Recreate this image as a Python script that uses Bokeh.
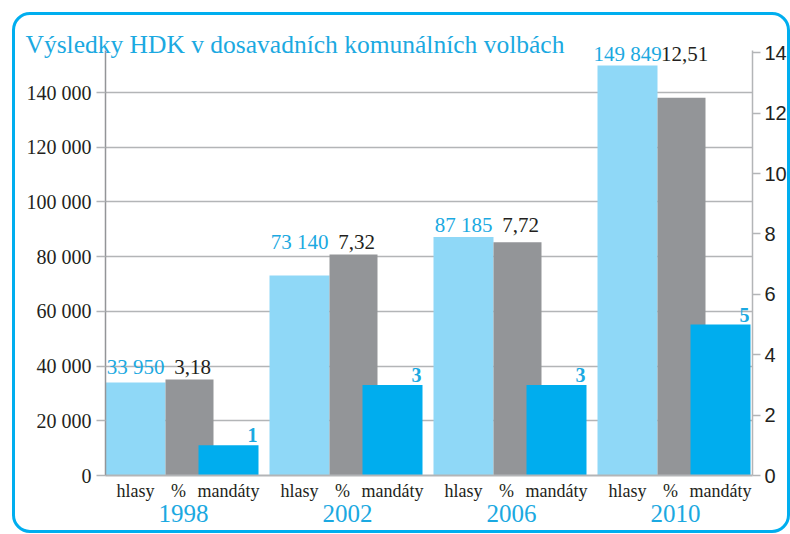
from bokeh.plotting import figure
from bokeh.models import (Range1d, LinearAxis, FixedTicker, Grid, ColumnDataSource,
                          Title, InlineStyleSheet)
from bokeh.core.properties import value
from bokeh.embed import file_html
from bokeh.resources import INLINE

# ---- data ----
years = ["1998", "2002", "2006", "2010"]
hlasy = [33950, 73140, 87185, 149849]
procenta = [3.18, 7.32, 7.72, 12.51]
mandaty = [1, 3, 3, 5]
left_ticks = [0, 20000, 40000, 60000, 80000, 100000, 120000, 140000]
left_tick_labels = ["0", "20 000", "40 000", "60 000", "80 000", "100 000", "120 000", "140 000"]
right_ticks = [0, 2, 4, 6, 8, 10, 12, 14]
cat_labels = ["hlasy", "%", "mandáty"]
title_text = "Výsledky HDK v dosavadních komunálních volbách"

# ---- style / layout ----
W, H = 790, 534
PITCH = 164
FRAME_W = 647
FRAME_H = 455
LEFT_PER_PX = 140000 / 383.0
RIGHT_PER_PX = 1 / 30.2
LEFT_END = FRAME_H * LEFT_PER_PX
RIGHT_END = FRAME_H * RIGHT_PER_PX

C_LIGHT = "#8fd8f7"
C_GRAY = "#939598"
C_BLUE = "#00adee"
C_CYAN = "#1ba9e1"
C_TEXT = "#231f20"
C_GRID = "#b3b5b7"
SERIF = "Liberation Serif"

p = figure(width=W, height=H, output_backend="svg", toolbar_location=None,
           x_axis_type=None, y_axis_type=None,
           x_range=Range1d(0, FRAME_W), y_range=Range1d(0, LEFT_END),
           min_border_left=105, min_border_right=38, min_border_top=20, min_border_bottom=59)
p.extra_y_ranges = {"right": Range1d(0, RIGHT_END)}
p.outline_line_color = None
p.background_fill_color = "white"
p.border_fill_color = "white"

# grid
p.add_layout(Grid(dimension=1, ticker=FixedTicker(ticks=left_ticks),
                  grid_line_color=C_GRID, grid_line_width=1.5))

groups = list(range(len(years)))
g0 = [i * PITCH for i in groups]

src = ColumnDataSource(dict(
    xh=[g + 30 for g in g0], xp=[g + 84 for g in g0], xm=[g + 123 for g in g0],
    hlasy=hlasy, pct=procenta, mand=mandaty,
))
p.vbar(x="xh", width=60, top="hlasy", bottom=0, source=src, fill_color=C_LIGHT, line_color=None)
p.vbar(x="xp", width=48, top="pct", bottom=0, source=src, fill_color=C_GRAY, line_color=None,
       y_range_name="right")
p.vbar(x="xm", width=60, top="mand", bottom=0, source=src, fill_color=C_BLUE, line_color=None,
       y_range_name="right")

# value labels
lab_y = []
for h, pc in zip(hlasy, procenta):
    top = max(h, pc / RIGHT_PER_PX * LEFT_PER_PX)
    lab_y.append(top + 12 * LEFT_PER_PX)
lab = ColumnDataSource(dict(
    xh=[g + 30 for g in g0], xp=[g + 87 for g in g0], y=lab_y,
    th=[f"{v:,}".replace(",", " ") for v in hlasy],
    tp=[f"{v:.2f}".replace(".", ",") for v in procenta],
    xm=[g + 152 for g in g0], ym=[m + 10 * RIGHT_PER_PX for m in mandaty],
    tm=[str(m) for m in mandaty],
))
p.text(x="xh", y="y", text="th", source=lab, text_align="center", text_baseline="alphabetic",
       text_font=value(SERIF), text_font_size="21px", text_color=C_CYAN)
p.text(x="xp", y="y", text="tp", source=lab, text_align="center", text_baseline="alphabetic",
       text_font=value(SERIF), text_font_size="21px", text_color=C_TEXT)
p.text(x="xm", y="ym", text="tm", source=lab, text_align="right", text_baseline="alphabetic",
       text_font=value(SERIF), text_font_style="bold", text_font_size="20px", text_color=C_CYAN,
       y_range_name="right")

# left axis
ly = LinearAxis(ticker=FixedTicker(ticks=left_ticks), bounds=(0, 425 * LEFT_PER_PX),
                major_label_overrides={t: s for t, s in zip(left_ticks, left_tick_labels)})
ly.axis_line_color = C_GRAY
ly.axis_line_width = 1.5
ly.major_tick_line_color = C_GRID
ly.major_tick_line_width = 1.5
ly.major_tick_out = 9
ly.major_tick_in = 0
ly.minor_tick_line_color = None
ly.major_label_standoff = 5
ly.major_label_text_font = SERIF
ly.major_label_text_font_size = "20px"
ly.major_label_text_color = C_TEXT
p.add_layout(ly, "left")

# right axis
ry = LinearAxis(y_range_name="right", ticker=FixedTicker(ticks=right_ticks),
                bounds=(0, 425 * RIGHT_PER_PX))
ry.axis_line_color = C_GRID
ry.axis_line_width = 1.5
ry.major_tick_line_color = C_GRID
ry.major_tick_line_width = 1.5
ry.major_tick_out = 8
ry.major_tick_in = 0
ry.minor_tick_line_color = None
ry.major_label_standoff = 4
ry.major_label_text_font = "Liberation Sans"
ry.major_label_text_font_size = "20px"
ry.major_label_text_color = C_TEXT
p.add_layout(ry, "right")

# category axis (below)
cat_ticks, cat_over = [], {}
for g in g0:
    for off, name in zip([30, 73, 123], cat_labels):
        cat_ticks.append(g + off)
        cat_over[g + off] = name
cx = LinearAxis(ticker=FixedTicker(ticks=cat_ticks), major_label_overrides=cat_over)
cx.axis_line_color = C_GRID
cx.axis_line_width = 2
cx.major_tick_line_color = None
cx.minor_tick_line_color = None
cx.major_tick_out = 0
cx.major_tick_in = 0
cx.major_label_standoff = 5
cx.major_label_text_font = SERIF
cx.major_label_text_font_size = "18px"
cx.major_label_text_color = C_TEXT
p.add_layout(cx, "below")

# year axis (below)
year_ticks = [g + 78 for g in g0]
yx = LinearAxis(ticker=FixedTicker(ticks=year_ticks),
                major_label_overrides={t: s for t, s in zip(year_ticks, years)})
yx.axis_line_color = None
yx.major_tick_line_color = None
yx.minor_tick_line_color = None
yx.major_tick_out = 0
yx.major_tick_in = 0
yx.major_label_standoff = 1
yx.major_label_text_font = SERIF
yx.major_label_text_font_size = "25px"
yx.major_label_text_color = C_CYAN
p.add_layout(yx, "below")

# title (side panel, pulled down over the frame)
p.add_layout(Title(text=title_text, align="left", offset=-80, standoff=-76,
                   vertical_align="bottom", text_font=SERIF, text_font_size="25.5px",
                   text_font_style="normal", text_color=C_CYAN), "above")

# rounded frame border
css = """
:host::after {
  content: "";
  position: absolute;
  left: 12px; top: 12px; right: 0px; bottom: 1px;
  border: 3.5px solid #00aeef;
  border-radius: 18px;
  pointer-events: none;
  z-index: 10;
}
"""
p.stylesheets = [InlineStyleSheet(css=css)]

open("out.html", "w").write(file_html(p, INLINE))
